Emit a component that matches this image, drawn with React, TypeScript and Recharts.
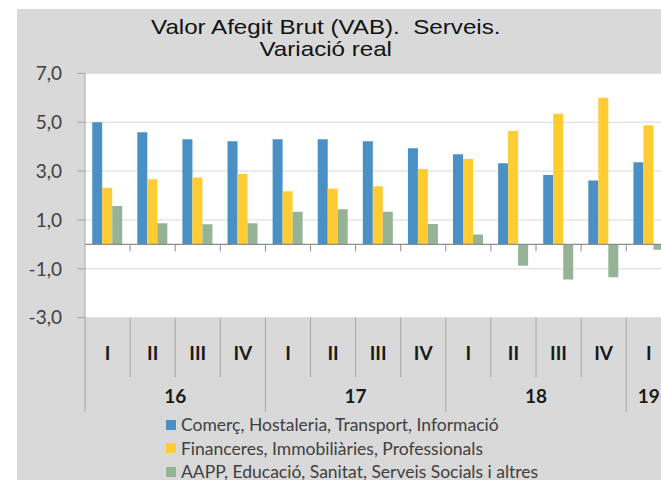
import { BarChart, Bar, XAxis, YAxis, CartesianGrid, ReferenceLine, Legend } from "recharts";

const QUARTERS = ['I', 'II', 'III', 'IV', 'I', 'II', 'III', 'IV', 'I', 'II', 'III', 'IV', 'I'];
const YEARS = ['16', '16', '16', '16', '17', '17', '17', '17', '18', '18', '18', '18', '19'];

const COMERC = [5.0, 4.59, 4.3, 4.22, 4.3, 4.3, 4.22, 3.93, 3.69, 3.32, 2.84, 2.61, 3.36];
const FINANCERES = [2.32, 2.66, 2.74, 2.88, 2.17, 2.28, 2.38, 3.08, 3.49, 4.64, 5.35, 6.0, 4.87];
const AAPP = [1.57, 0.86, 0.82, 0.86, 1.34, 1.44, 1.34, 0.83, 0.4, -0.87, -1.44, -1.35, -0.22];

const Y_TICKS = [-3, -1, 1, 3, 5, 7];

const SERIES = [
    { key: 'comerc', name: "Comerç, Hostaleria, Transport, Informació", color: '#4a90c4' },
    { key: 'fin', name: "Financeres, Immobiliàries, Professionals", color: '#ffcc33' },
    { key: 'aapp', name: "AAPP, Educació, Sanitat, Serveis Socials i altres", color: '#97b396' },
];

// layout
const CHART_W = 700;
const CHART_H = 480;
const PLOT_LEFT = 85;
const PLOT_TOP = 73.3;
const PLOT_BOTTOM = 317.7;
const CAT_W = 45.1;
const PLOT_RIGHT = PLOT_LEFT + CAT_W * QUARTERS.length;
const XAXIS_H = 100;

const LABEL_FONT = "Lato, 'Open Sans', sans-serif";
const AXIS_GRAY = '#a6a6a6';

const data = QUARTERS.map((q, i) => ({
    key: `${YEARS[i]}-${q}-${i}`,
    comerc: COMERC[i],
    fin: FINANCERES[i],
    aapp: AAPP[i],
}));

const QuarterTick = (props: any) => {
    const { x, index } = props;
    const left = x - CAT_W / 2;
    const yearStart = index === 0 || YEARS[index] !== YEARS[index - 1];
    let span = 0;
    if (yearStart) {
        while (index + span < YEARS.length && YEARS[index + span] === YEARS[index]) span++;
    }
    return (
        <g>
            <line x1={left} x2={left} y1={PLOT_BOTTOM} y2={yearStart ? 412 : 377} stroke={AXIS_GRAY} />
            <text x={x} y={352} textAnchor="middle" dominantBaseline="central"
                fontFamily={LABEL_FONT} fontWeight={700} fontSize={19} fill="#1a1a1a">
                {QUARTERS[index]}
            </text>
            {yearStart && (
                <text x={left + (span * CAT_W) / 2} y={395} textAnchor="middle" dominantBaseline="central"
                    fontFamily={LABEL_FONT} fontWeight={700} fontSize={19} fill="#1a1a1a">
                    {YEARS[index]}
                </text>
            )}
        </g>
    );
};

const ZeroAxis = (p: any) => {
    const { x1, x2, y1 } = p;
    const step = (x2 - x1) / QUARTERS.length;
    return (
        <g>
            <line x1={x1} x2={x2} y1={y1} y2={y1} stroke="#8c8c8c" strokeWidth={1.3} />
            {QUARTERS.map((_, i) =>
                i === 0 ? null : (
                    <line key={i} x1={x1 + i * step} x2={x1 + i * step} y1={y1} y2={y1 + 7} stroke="#8c8c8c" />
                )
            )}
        </g>
    );
};

const LegendContent = () => (
    <div style={{ fontFamily: LABEL_FONT, fontSize: 17.5, color: '#404040', lineHeight: '23.5px' }}>
        {SERIES.map((s) => (
            <div key={s.key} style={{ display: 'flex', alignItems: 'center', whiteSpace: 'nowrap' }}>
                <span style={{ width: 10, height: 10, background: s.color, marginRight: 5, display: 'inline-block' }} />
                {s.name}
            </div>
        ))}
    </div>
);

export default function App() {
    return (
        <div style={{ position: 'fixed', left: 0, top: 0, width: 661, height: 480, overflow: 'hidden', background: '#fff' }}>
            <div style={{ position: 'absolute', left: 17, top: 9, right: 0, bottom: 0, background: '#d9d9d9' }} />
            <div style={{
                position: 'absolute', left: 17, top: 16, width: 618, textAlign: 'center',
                fontFamily: "'Liberation Sans', Arial, sans-serif", fontSize: 21, lineHeight: '21.5px', color: '#111',
                transform: 'scaleX(1.15)', transformOrigin: '310.5px 0', whiteSpace: 'pre',
            }}>
                {"Valor Afegit Brut (VAB).  Serveis.\nVariació real"}
            </div>
            <div style={{ position: 'absolute', left: 0, top: 0 }}>
                <BarChart
                    width={CHART_W}
                    height={CHART_H}
                    data={data}
                    barCategoryGap="16%"
                    barGap={0}
                    margin={{ top: PLOT_TOP, right: CHART_W - PLOT_RIGHT, left: 0, bottom: CHART_H - PLOT_BOTTOM - XAXIS_H }}
                >
                    <CartesianGrid vertical={false} stroke="#d9d9d9" fill="#fff" fillOpacity={1} />
                    <XAxis dataKey="key" interval={0} axisLine={false} tickLine={false} height={XAXIS_H} tick={<QuarterTick />} />
                    <YAxis
                        width={PLOT_LEFT}
                        domain={[-3, 7]}
                        ticks={Y_TICKS}
                        interval={0}
                        allowDataOverflow
                        stroke={AXIS_GRAY}
                        tickSize={8}
                        tickMargin={15}
                        tick={{ fill: '#404040', fontSize: 19, fontFamily: LABEL_FONT }}
                        tickFormatter={(v: number) => v.toFixed(1).replace('.', ',')}
                    />
                    {SERIES.map((s) => (
                        <Bar key={s.key} dataKey={s.key} name={s.name} fill={s.color} isAnimationActive={false} />
                    ))}
                    <ReferenceLine y={0} shape={ZeroAxis} />
                    <Legend
                        layout="vertical"
                        align="center"
                        verticalAlign="middle"
                        wrapperStyle={{ left: 166, top: 413, width: 480, height: 70 }}
                        content={LegendContent}
                    />
                </BarChart>
            </div>
        </div>
    );
}
